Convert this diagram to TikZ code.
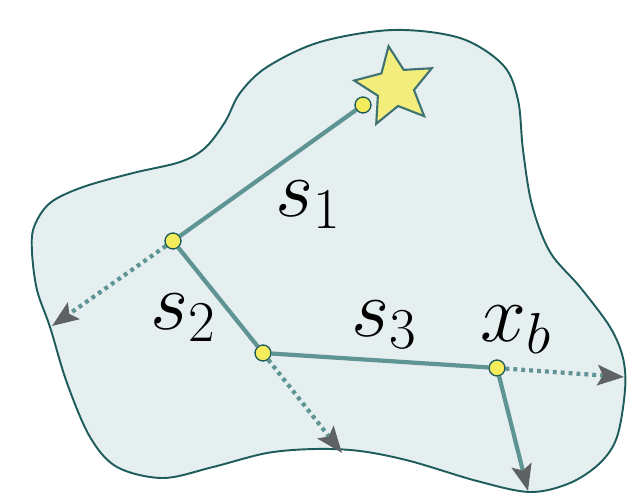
\RequirePackage{fix-cm}
\documentclass[tikz,border=0pt]{standalone}
\usetikzlibrary{arrows.meta,shapes.geometric}
\definecolor{blobfill}{HTML}{E6EFEF}
\definecolor{blobline}{HTML}{1F5C5C}
\definecolor{edgecol}{HTML}{5E9494}
\definecolor{dotfill}{HTML}{F4EC5C}
\definecolor{starfill}{HTML}{F3EE7C}
\definecolor{starline}{HTML}{3F7373}
\definecolor{tipcol}{HTML}{5F6262}
\tikzset{
  vert/.style={circle,draw=blobline,fill=dotfill,line width=0.7pt,minimum size=9pt,inner sep=0pt},
  edgeline/.style={draw=edgecol,line width=2.4pt},
  dotline/.style={draw=edgecol,line width=2.4pt,dash pattern=on 2.2pt off 2.3pt},
  tip/.style={-{Stealth[length=15pt,width=11.5pt,inset=3pt,color=tipcol]}},
  lbl/.style={font=\fontsize{47}{56}\selectfont,inner sep=0pt}
}
\begin{document}
\begin{tikzpicture}[x=0.02cm,y=-0.02cm]
\useasboundingbox (0,0) rectangle (629,500);
\draw[blobline,fill=blobfill,line width=1.1pt] plot[smooth cycle,tension=0.55] coordinates {
 (320,42) (267,67) (240,93) (225,122) (205,148) (180,162) (133,173) (83,187) (50,203) (34,227) (32,252) (37,290) (50,327) (67,383) (90,437) (117,467) (163,478) (213,467) (267,453) (315,449) (360,451) (410,461) (477,481) (530,492) (570,483) (600,463) (617,437) (625,390) (623,358) (610,327) (580,287) (550,252) (532,205) (523,150) (518,100) (503,65) (460,38) (393,30)};
\node[star,star points=5,star point ratio=2.15,minimum size=47pt,inner sep=0pt,shape border rotate=9,draw=starline,fill=starfill,line width=1.2pt] (goal) at (395,87) {};
\node[vert] (a) at (173,241) {};
\node[vert] (b) at (263,353) {};
\node[vert] (c) at (497,368) {};
\node[vert] (d) at (363,105) {};
\coordinate (ea) at (52,326);
\coordinate (eb) at (342,453);
\coordinate (ec) at (624,377);
\coordinate (ed) at (528,491);
\draw[edgeline] (a) -- (d);
\draw[edgeline] (a) -- (b);
\draw[edgeline] (b) -- (c);
\draw[dotline,tip] (a) -- (ea);
\draw[dotline,tip] (b) -- (eb);
\draw[dotline,tip] (c) -- (ec);
\draw[edgeline,tip] (c) -- (ed);
\node[vert] at (a) {};
\node[vert] at (b) {};
\node[vert] at (c) {};
\node[vert] at (d) {};
\node[lbl] (l1) at (308,205) {$s_1$};
\node[lbl] (l2) at (183,318) {$s_2$};
\node[lbl] (l3) at (384,325) {$s_3$};
\node[lbl] (l4) at (516,330) {$x_b$};
\end{tikzpicture}
\end{document}
